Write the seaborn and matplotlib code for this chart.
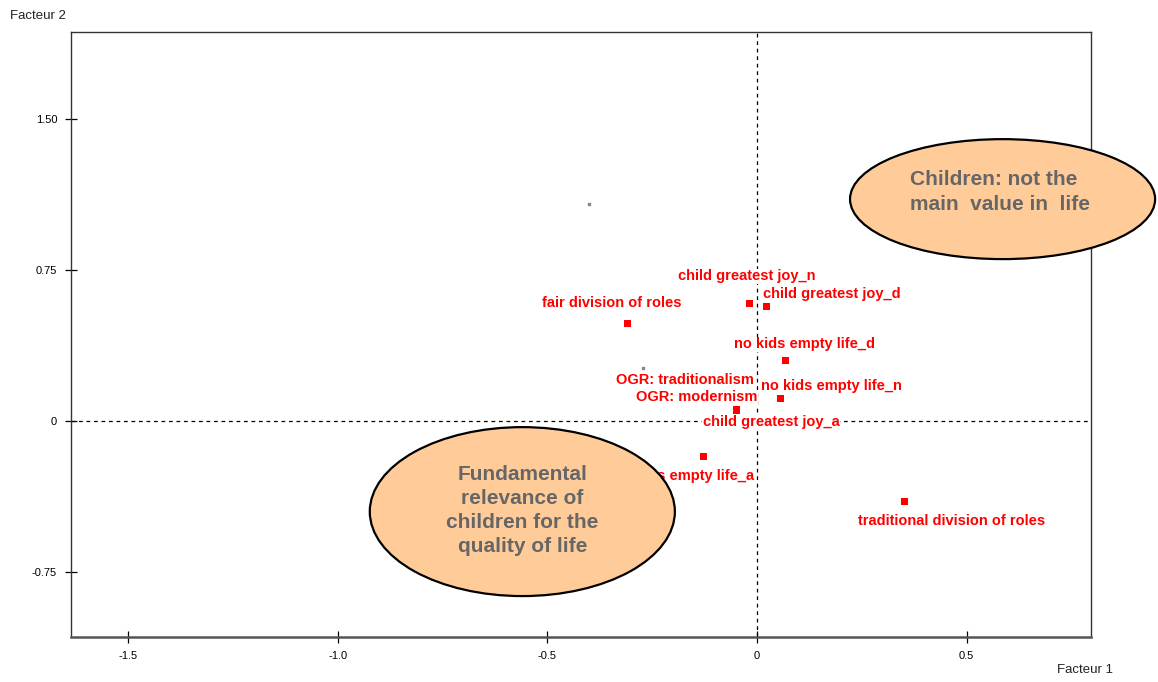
import matplotlib
matplotlib.use("Agg")
import matplotlib.pyplot as plt
from matplotlib.patches import Ellipse
import numpy as np
import pandas as pd
import seaborn as sns

# active categories (red squares)
labels = ["fair division of roles", "child greatest joy_n", "child greatest joy_d",
          "no kids empty life_d", "no kids empty life_n", "child greatest joy_a",
          "no kids empty life_a", "traditional division of roles"]
f1 = [-0.308, -0.019, 0.022, 0.067, 0.055, -0.048, -0.127, 0.353]
f2 = [0.486, 0.585, 0.570, 0.302, 0.114, 0.055, -0.174, -0.397]

# supplementary categories (tiny dots)
sup_labels = ["OGR: traditionalism", "OGR: modernism"]
sup_f1 = [-0.273, -0.402]
sup_f2 = [0.264, 1.075]

# interpretation zones
zone_text = ["Fundamental\nrelevance of\nchildren for the\nquality of life",
             "Children: not the\nmain  value in  life"]
zone_x = [-0.560, 0.586]
zone_y = [-0.449, 1.101]
zone_w = [0.728, 0.728]
zone_h = [0.838, 0.595]

xticks = [-1.5, -1.0, -0.5, 0, 0.5]
xtick_labels = ["-1.5", "-1.0", "-0.5", "0", "0.5"]
yticks = [-0.75, 0, 0.75, 1.5]
ytick_labels = ["-0.75", "0", "0.75", "1.50"]

# label offsets in pixels (dx, dy)
lab_off = [(-16, 20), (-2, 27), (66, 12), (19, 16), (51, 12), (34, -12), (-20, -20), (47, -20)]
sup_off = [(42, -12), (108, -193)]

sns.set_theme(style="white")
plt.rcParams["font.family"] = ["Liberation Sans", "DejaVu Sans"]

df = pd.DataFrame({"f1": f1, "f2": f2, "label": labels})

fig = plt.figure(figsize=(11.58, 6.82), dpi=100)
ax = fig.add_axes([71 / 1158, 45 / 682, (1091 - 71) / 1158, (637 - 32) / 682])

ax.axvline(0, color="black", lw=0.9, ls=(0, (3, 3)), zorder=1)
ax.axhline(0, color="black", lw=0.9, ls=(0, (3, 3)), zorder=1)

sns.scatterplot(data=df, x="f1", y="f2", marker="s", s=26, color="#FF0000",
                edgecolor="none", ax=ax, zorder=2)
ax.scatter(sup_f1, sup_f2, s=2, color="#888888", marker="s", zorder=2)

for x, y, t, (dx, dy) in zip(f1, f2, labels, lab_off):
    ax.annotate(t, (x, y), xytext=(dx, dy), textcoords="offset pixels",
                ha="center", va="center", color="#FF0000", fontsize=10.5,
                fontweight="bold", zorder=3,
                bbox=dict(facecolor="white", edgecolor="none", pad=0.3))
for x, y, t, (dx, dy) in zip(sup_f1, sup_f2, sup_labels, sup_off):
    ax.annotate(t, (x, y), xytext=(dx, dy), textcoords="offset pixels",
                ha="center", va="center", color="#FF0000", fontsize=10.5,
                fontweight="bold", zorder=3,
                bbox=dict(facecolor="white", edgecolor="none", pad=0.3))

for i in range(len(zone_text)):
    e = Ellipse((zone_x[i], zone_y[i]), zone_w[i], zone_h[i], facecolor="#FFCC99",
                edgecolor="black", lw=1.6, zorder=5, clip_on=False)
    ax.add_patch(e)

ax.text(zone_x[0], zone_y[0] + 0.005, zone_text[0], ha="center", va="center",
        multialignment="center", fontsize=15, fontweight="bold", color="#666666",
        linespacing=1.32, zorder=6)
ax.text(zone_x[1] - 0.22, zone_y[1] + 0.035, zone_text[1], ha="left", va="center",
        multialignment="left", fontsize=15, fontweight="bold", color="#666666",
        linespacing=1.4, zorder=6)

ax.set_xlim(-1.637, 0.797)
ax.set_ylim(-1.071, 1.930)
ax.set_xticks(xticks)
ax.set_xticklabels(xtick_labels)
ax.set_yticks(yticks)
ax.set_yticklabels(ytick_labels)
ax.set_xlabel("")
ax.set_ylabel("")
ax.tick_params(axis="both", which="major", direction="inout", length=8, width=0.9,
               colors="black", labelsize=8, pad=6, bottom=True, left=True)
for side in ["top", "right", "left"]:
    ax.spines[side].set_color("#333333")
    ax.spines[side].set_linewidth(1.0)
ax.spines["bottom"].set_color("#555555")
ax.spines["bottom"].set_linewidth(1.8)
ax.grid(False)

fig.text(1085 / 1158, 1 - 670 / 682, "Facteur 1", ha="center", va="center",
         fontsize=9.5, color="#222222")
fig.text(10 / 1158, 1 - 16 / 682, "Facteur 2", ha="left", va="center",
         fontsize=9.5, color="#222222")

fig.savefig("out.png", dpi=100, facecolor="white")
